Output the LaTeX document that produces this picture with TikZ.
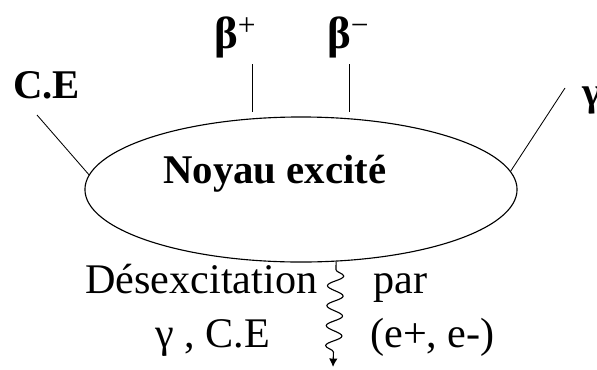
\documentclass[tikz,border=0pt]{standalone}
\usepackage{fontspec}
\setmainfont{Liberation Serif}
\usetikzlibrary{arrows.meta,shapes.geometric,decorations.pathmorphing}

\begin{document}
\begin{tikzpicture}[x=0.025cm, y=-0.025cm, >={Latex[length=6pt,width=6pt]},
    every node/.style={inner sep=0pt, font=\fontsize{30}{32}\selectfont},
    lbl/.style={anchor=base west},
    bigl/.style={anchor=base west, font=\fontsize{29}{31}\selectfont\bfseries},
    betal/.style={anchor=base west, font=\fontsize{32}{34}\selectfont\bfseries}]
    \useasboundingbox (0,0) rectangle (597,369);

    \node[ellipse, draw, thick, minimum width=10.8cm, minimum height=3.625cm] (noyau) at (301,189.5) {};
    \node[bigl] (txt) at (163,183) {Noyau excité};

    \node[bigl] (ce) at (13,98) {C.E};
    \node[betal] (bplus) at (214,48) {β\textsuperscript{\mdseries +}};
    \node[betal] (bminus) at (327,48) {β\textsuperscript{\mdseries −}};
    \node[bigl] (gam) at (582,105) {γ};

    \coordinate (cetop) at (37,115);
    \coordinate (bpa) at (252,64);
    \coordinate (bpb) at (252,112);
    \coordinate (bma) at (349,64);
    \coordinate (bmb) at (349,112);
    \coordinate (gtop) at (565,88);
    \coordinate (wend) at (333,367);

    \draw[semithick] (cetop) -- (noyau.176);
    \draw[semithick] (bpa) -- (bpb);
    \draw[semithick] (bma) -- (bmb);
    \draw[semithick] (gtop) -- (noyau.5);
    \draw[->, thick, decorate, decoration={snake, amplitude=0.2cm, segment length=0.5cm, pre length=0.2cm, post length=0.15cm}] (noyau.-64) -- (wend);

    \node[lbl] (des) at (85,293) {Désexcitation};
    \node[lbl] (par) at (373,293) {par};
    \node[lbl] (gce) at (155,347) {γ , C.E};
    \node[lbl] (epm) at (370,347) {(e+, e-)};
\end{tikzpicture}
\end{document}
